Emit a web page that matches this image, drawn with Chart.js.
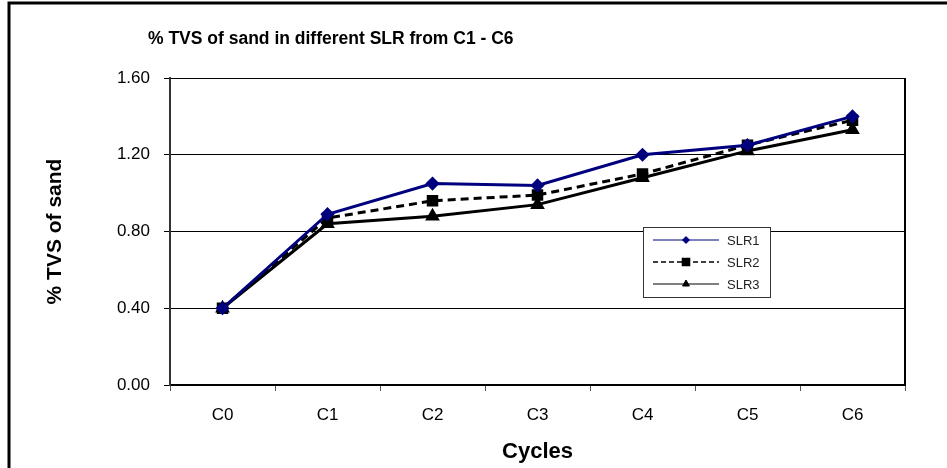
<!DOCTYPE html>
<html>
<head>
<meta charset="utf-8">
<script src="https://cdn.jsdelivr.net/npm/chart.js@4/dist/chart.umd.min.js"></script>
<style>
  html, body { margin: 0; padding: 0; background: #fff; }
  #wrap { width: 947px; height: 468px; position: relative; }
</style>
</head>
<body>
<div id="wrap"><canvas id="tvsChart" width="947" height="468"></canvas></div>
<script>
// --- Data ---
const cycles = ['C0', 'C1', 'C2', 'C3', 'C4', 'C5', 'C6'];
const slr1 = [0.40, 0.89, 1.05, 1.04, 1.20, 1.25, 1.40];
const slr2 = [0.40, 0.87, 0.96, 0.99, 1.10, 1.25, 1.38];
const slr3 = [0.40, 0.84, 0.88, 0.94, 1.08, 1.22, 1.33];
const yTicks = [0, 0.4, 0.8, 1.2, 1.6];

const FONT = "'Liberation Sans', Arial, sans-serif";

// frame, title, right border of plot and the boxed legend
const decorPlugin = {
    id: 'decor',
    afterDraw(chart) {
        const ctx = chart.ctx;
        const area = chart.chartArea;
        ctx.save();

        // outer frame (left + top)
        ctx.strokeStyle = '#000';
        ctx.lineWidth = 3;
        ctx.beginPath();
        ctx.moveTo(9, 468);
        ctx.lineTo(9, 3);
        ctx.lineTo(947, 3);
        ctx.stroke();

        // plot right border
        ctx.lineWidth = 2;
        ctx.beginPath();
        ctx.moveTo(area.right, area.top);
        ctx.lineTo(area.right, area.bottom);
        ctx.stroke();

        // title
        ctx.fillStyle = '#000';
        ctx.font = "bold 17.5px " + FONT;
        ctx.textBaseline = 'middle';
        ctx.textAlign = 'left';
        ctx.fillText('% TVS of sand in different SLR from C1 - C6', 148, 39);

        // legend box
        const lx = 643, ly = 227, lw = 127, lh = 70;
        ctx.fillStyle = '#fff';
        ctx.fillRect(lx, ly, lw, lh);
        ctx.strokeStyle = '#333';
        ctx.lineWidth = 1;
        ctx.strokeRect(lx + 0.5, ly + 0.5, lw, lh);

        ctx.font = "13px " + FONT;
        chart.data.datasets.forEach((ds, i) => {
            const y = ly + 13 + i * 22;
            ctx.strokeStyle = ds.borderColor;
            ctx.lineWidth = ds.legendLineWidth;
            ctx.setLineDash(ds.borderDash ? [5, 3] : []);
            ctx.beginPath();
            ctx.moveTo(lx + 10, y);
            ctx.lineTo(lx + 76, y);
            ctx.stroke();
            ctx.setLineDash([]);
            ctx.fillStyle = ds.backgroundColor;
            ctx.strokeStyle = ds.borderColor;
            Chart.helpers.drawPoint(ctx, {
                pointStyle: ds.pointStyle,
                radius: ds.legendRadius,
                rotation: 0,
                borderWidth: 1
            }, lx + 43, y);
            ctx.fillStyle = '#222';
            ctx.fillText(ds.label, lx + 84, y + 1);
        });
        ctx.restore();
    }
};

function initChart() {
    const canvas = document.getElementById('tvsChart');
    const ctx = canvas.getContext('2d');

    new Chart(ctx, {
        type: 'line',
        data: {
            labels: cycles,
            datasets: [
                {
                    label: 'SLR1',
                    data: slr1,
                    borderColor: '#00007f',
                    backgroundColor: '#00007f',
                    borderWidth: 3,
                    pointStyle: 'rectRot',
                    pointRadius: 5,
                    legendLineWidth: 1,
                    legendRadius: 3.5
                },
                {
                    label: 'SLR2',
                    data: slr2,
                    borderColor: '#000',
                    backgroundColor: '#000',
                    borderWidth: 3,
                    borderDash: [8, 5],
                    pointStyle: 'rect',
                    pointRadius: 6,
                    legendLineWidth: 1.5,
                    legendRadius: 5
                },
                {
                    label: 'SLR3',
                    data: slr3,
                    borderColor: '#000',
                    backgroundColor: '#000',
                    borderWidth: 3,
                    pointStyle: 'triangle',
                    pointRadius: 5.5,
                    legendLineWidth: 1,
                    legendRadius: 4
                }
            ]
        },
        options: {
            responsive: false,
            animation: false,
            layout: { padding: { left: 0, top: 78, right: 42, bottom: 0 } },
            plugins: {
                legend: { display: false },
                tooltip: { enabled: false }
            },
            scales: {
                x: {
                    offset: true,
                    grid: {
                        offset: true,
                        drawOnChartArea: false,
                        drawTicks: true,
                        tickLength: 6,
                        color: '#555',
                        lineWidth: 1
                    },
                    border: { color: '#000', width: 2 },
                    ticks: {
                        color: '#000',
                        padding: 14,
                        font: { family: FONT, size: 17 }
                    },
                    title: {
                        display: true,
                        text: 'Cycles',
                        color: '#000',
                        font: { family: FONT, size: 22, weight: 'bold' },
                        padding: { top: 4, bottom: 3 }
                    },
                    afterFit(scale) { scale.height = 83; }
                },
                y: {
                    min: 0,
                    max: 1.6,
                    afterBuildTicks(scale) {
                        scale.ticks = yTicks.map(v => ({ value: v }));
                    },
                    grid: {
                        color: '#000',
                        lineWidth: 1,
                        tickLength: 6
                    },
                    border: { color: '#333', width: 2 },
                    ticks: {
                        color: '#000',
                        padding: 14,
                        font: { family: FONT, size: 17 },
                        callback: (v) => Number(v).toFixed(2)
                    },
                    title: {
                        display: true,
                        text: '% TVS of sand',
                        color: '#000',
                        font: { family: FONT, size: 21, weight: 'bold' },
                        padding: { top: 43, bottom: 0 }
                    },
                    afterFit(scale) { scale.width = 170; }
                }
            }
        },
        plugins: [decorPlugin]
    });
}

document.addEventListener('DOMContentLoaded', initChart);
</script>
</body>
</html>
